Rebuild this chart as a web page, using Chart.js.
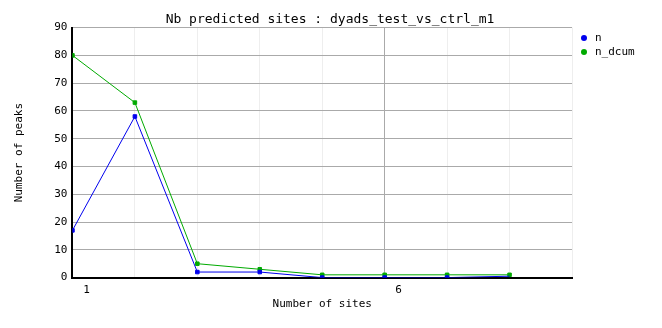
<!DOCTYPE html>
<html>
<head>
<meta charset="utf-8">
<script src="https://cdn.jsdelivr.net/npm/chart.js@4/dist/chart.umd.min.js"></script>
<style>
  html, body { margin: 0; padding: 0; background: #fff; }
  #box { width: 662px; height: 328px; }
</style>
</head>
<body>
<div id="box"><canvas id="grafica"></canvas></div>
<script>
// datos
var sitios = [1, 2, 3, 4, 5, 6, 7, 8];
var valoresN = [17, 58, 2, 2, 0, 0, 0, 0.5];
var valoresDcum = [80, 63, 5, 3, 1, 1, 1, 1];
var etiquetasX = [1, 6];
var etiquetasY = [0, 10, 20, 30, 40, 50, 60, 70, 80, 90];

var fuente = "'DejaVu Sans Mono', monospace";

function puntos(valores) {
  var res = [];
  for (var i = 0; i < valores.length; i++) {
    res.push({ x: sitios[i], y: valores[i] });
  }
  return res;
}

// leyenda a la derecha, arriba (como en la imagen original)
var leyenda = {
  id: 'leyenda',
  afterDraw: function(chart) {
    var c = chart.ctx;
    var x = chart.chartArea.right + 12;
    var y = 38;
    c.save();
    c.font = '11px ' + fuente;
    c.textBaseline = 'middle';
    chart.data.datasets.forEach(function(ds, i) {
      c.fillStyle = ds.borderColor;
      c.beginPath();
      c.arc(x, y + i * 14, 3, 0, 2 * Math.PI);
      c.fill();
      c.fillStyle = '#000';
      c.fillText(ds.label, x + 11, y + i * 14);
    });
    c.restore();
  }
};

var ctx = document.getElementById('grafica').getContext('2d');
var chart = new Chart(ctx, {
  type: 'line',
  data: {
    datasets: [{
      label: 'n',
      data: puntos(valoresN),
      borderColor: '#0000ee',
      backgroundColor: '#0000ee',
      borderWidth: 1,
      pointStyle: 'rect',
      pointRadius: [2.5, 2.5, 2.5, 2.5, 2.5, 2.5, 2.5, 0],
      tension: 0
    }, {
      label: 'n_dcum',
      data: puntos(valoresDcum),
      borderColor: '#00aa00',
      backgroundColor: '#00aa00',
      borderWidth: 1,
      pointStyle: 'rect',
      pointRadius: 2.5,
      tension: 0
    }]
  },
  plugins: [leyenda],
  options: {
    responsive: true,
    maintainAspectRatio: false,
    animation: false,
    layout: { padding: { left: 12, right: 14, top: 3, bottom: 17 } },
    plugins: {
      title: {
        display: true,
        text: 'Nb predicted sites : dyads_test_vs_ctrl_m1',
        color: '#000',
        font: { family: fuente, size: 13, weight: 'normal' },
        padding: { top: 9, bottom: 0 }
      },
      legend: { display: false },
      tooltip: { enabled: false }
    },
    scales: {
      x: {
        type: 'linear',
        min: 1,
        max: 9,
        title: {
          display: true,
          text: 'Number of sites',
          color: '#000',
          font: { family: fuente, size: 11 },
          padding: { top: -5, bottom: 0 }
        },
        border: { color: '#000', width: 2 },
        grid: {
          drawTicks: false,
          color: function(c) {
            if (c.tick && c.tick.value === 6) return '#aaaaaa';
            return '#eeeeee';
          }
        },
        ticks: {
          stepSize: 1,
          autoSkip: false,
          maxRotation: 0,
          labelOffset: 14,
          padding: 6,
          color: '#000',
          font: { family: fuente, size: 11 },
          callback: function(v) {
            return etiquetasX.indexOf(v) >= 0 ? String(v) : '';
          }
        }
      },
      y: {
        min: 0,
        max: 90,
        title: {
          display: true,
          text: 'Number of peaks',
          color: '#000',
          font: { family: fuente, size: 11 },
          padding: { top: 1, bottom: 23 }
        },
        border: { color: '#000', width: 2 },
        grid: { color: '#aaaaaa', drawTicks: false },
        afterBuildTicks: function(axis) {
          axis.ticks = etiquetasY.map(function(v) { return { value: v }; });
        },
        ticks: {
          padding: 5,
          color: '#000',
          font: { family: fuente, size: 11 }
        }
      },
      // eje vacio a la derecha para dejar sitio a la leyenda
      espacio: {
        type: 'linear',
        position: 'right',
        grid: { display: false },
        border: { display: false },
        ticks: { display: false },
        afterFit: function(axis) { axis.width = 76; }
      }
    }
  }
});
</script>
</body>
</html>
